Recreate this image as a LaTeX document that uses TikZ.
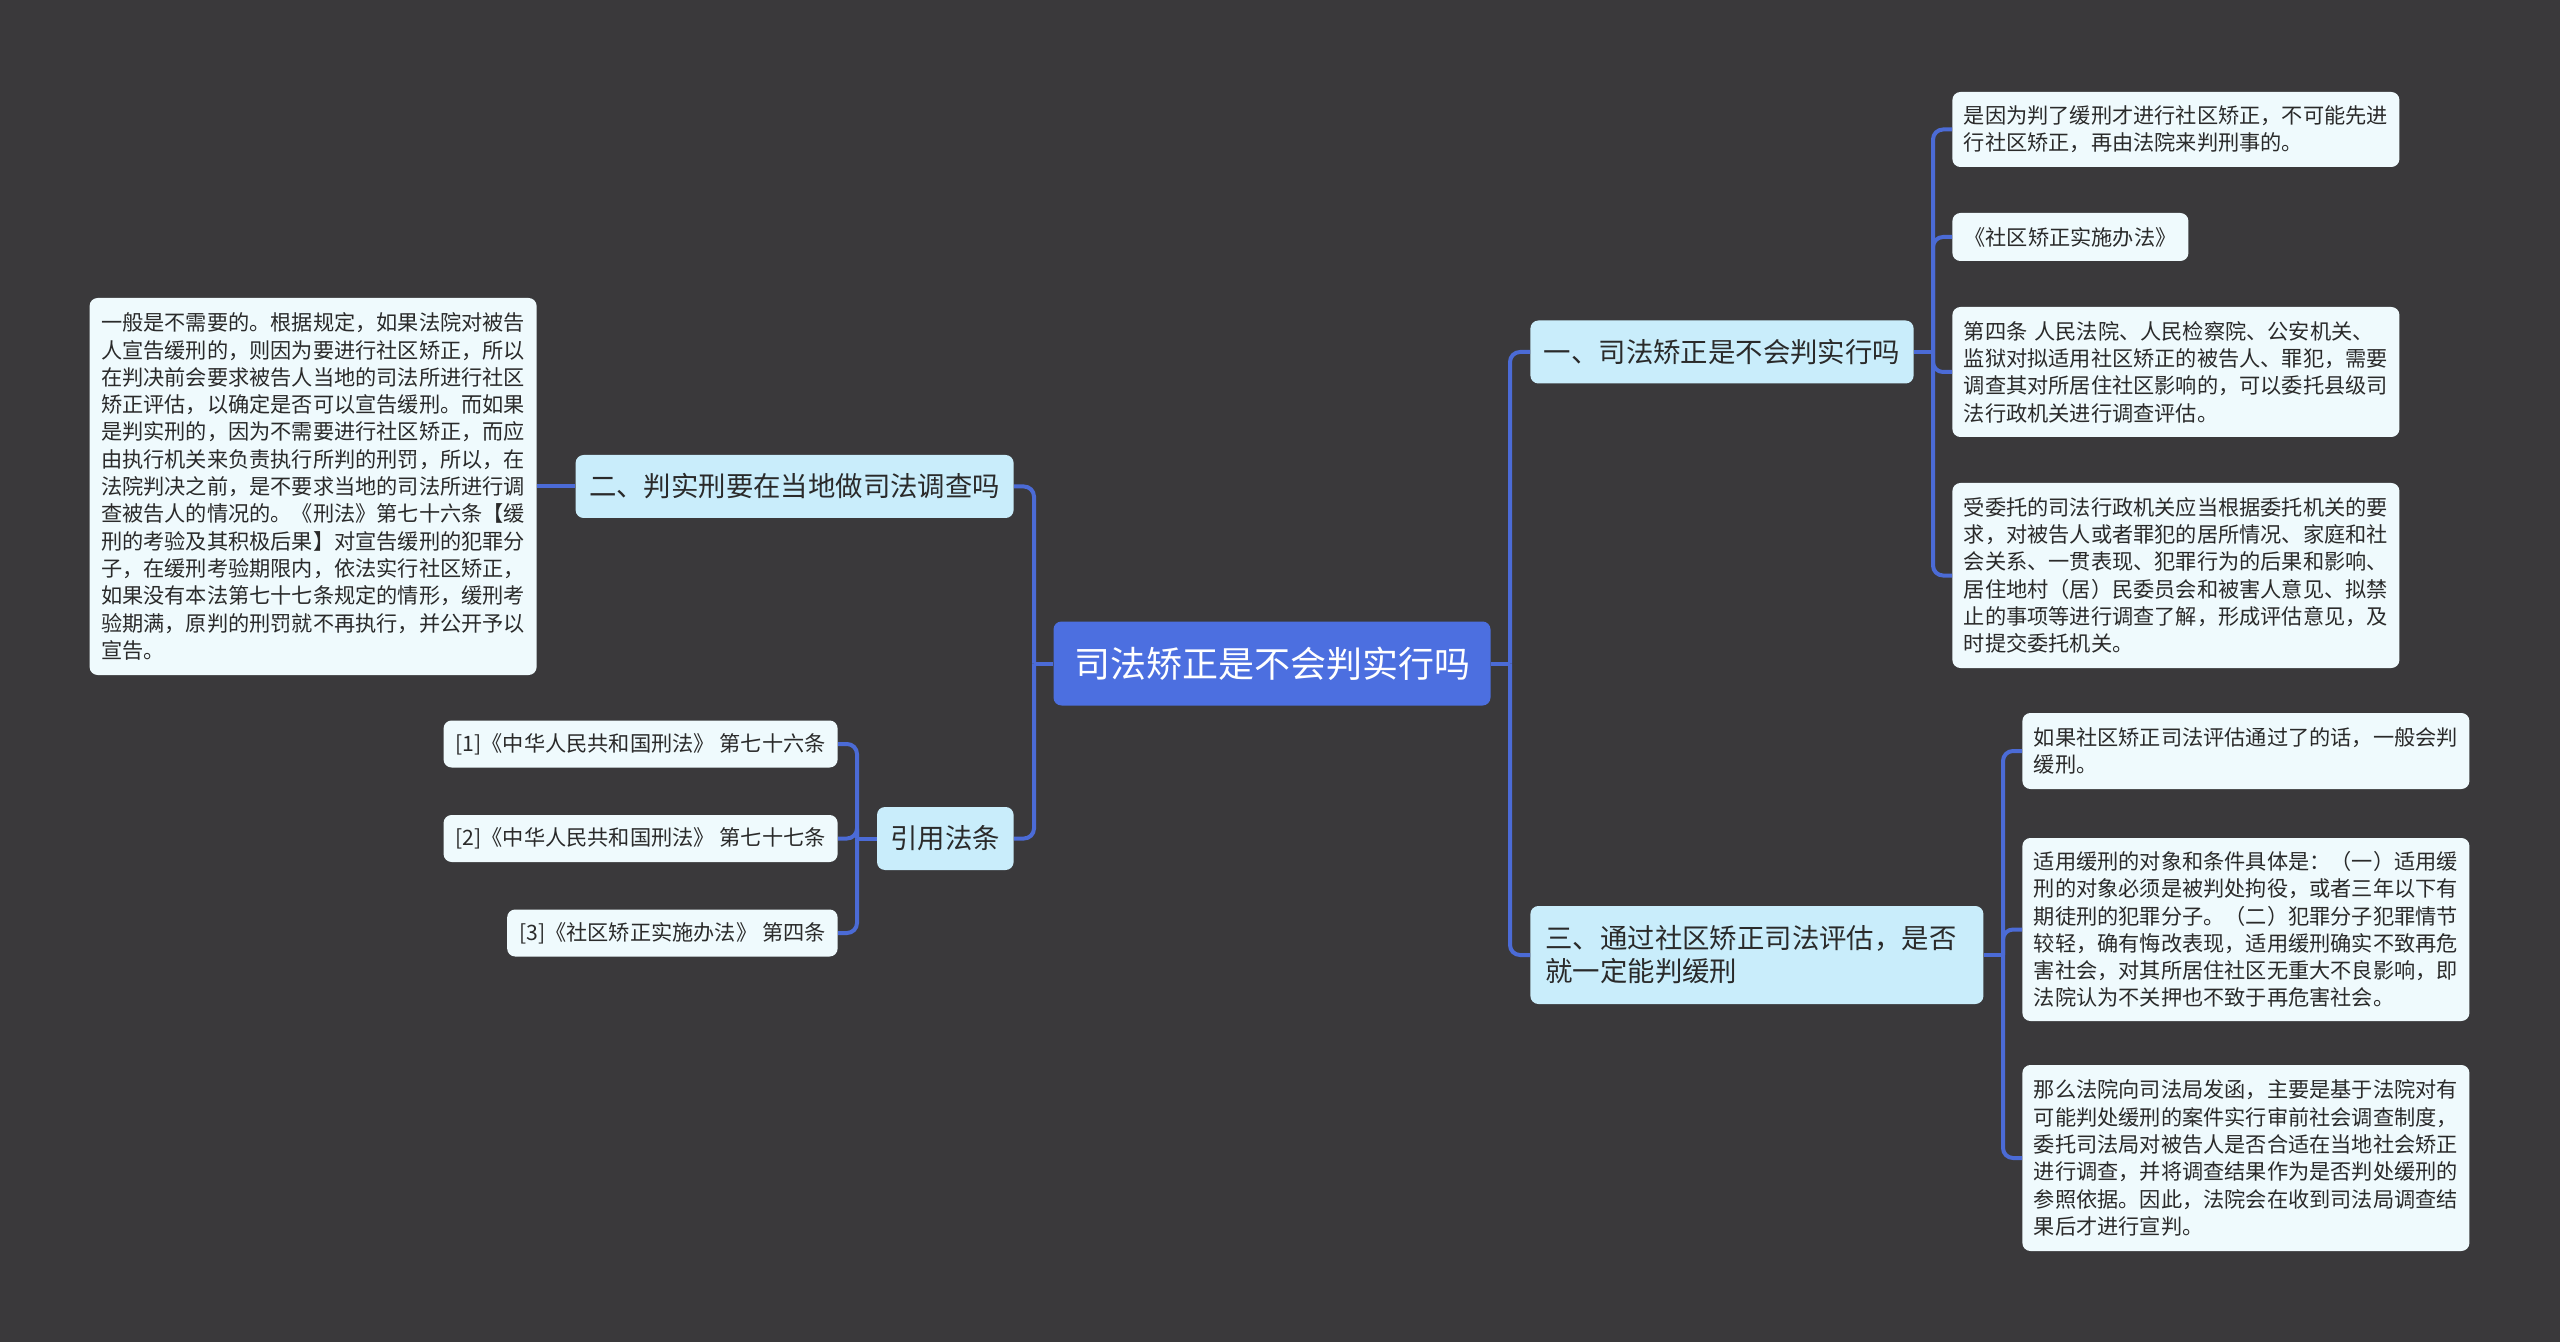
\documentclass[tikz,border=0pt]{standalone}
\usepackage{fontspec}
\setmainfont{Noto Sans CJK SC}
\definecolor{bgdark}{HTML}{3A393B}
\definecolor{rootblue}{HTML}{4C6FE0}
\definecolor{subcyan}{HTML}{C9EDFB}
\definecolor{notewhite}{HTML}{EFFAFD}
\definecolor{linkblue}{HTML}{4B6BD6}
\definecolor{ink}{HTML}{2A2A2A}
\tikzset{ %inner sep = 0pt,
  {main topic/.style} ={rounded corners=4pt, fill=rootblue, text=white,
                font=\fontsize{18}{21}\selectfont, inner sep=0pt,
                minimum width=218.5pt, minimum height=42pt},
  {sub topic/.style} ={rounded corners=4pt, fill=subcyan, text=ink,
                font=\fontsize{13.7}{16.5}\selectfont, inner xsep=6.75pt,
                inner ysep=0pt, minimum height=31.5pt},
  {note box/.style} ={rounded corners=4pt, fill=notewhite, text=ink,
                font=\fontsize{10.6}{13.65}\selectfont, text width=212pt,
                align=left, inner xsep=5.75pt, inner ysep=0pt},
  {cite box/.style} ={rounded corners=4pt, fill=notewhite, text=ink,
                font=\fontsize{10.6}{13.65}\selectfont, inner xsep=6pt,
                inner ysep=0pt, minimum height=23.5pt},
  {link line/.style} ={draw=linkblue, line width=2pt, rounded corners=5pt},
  >=latex,
 }

\begin{document}
\begin{tikzpicture}[x=0.5pt,y=-0.5pt]
\fill[bgdark] (0,0) rectangle (2560,1342);
\useasboundingbox (0,0) rectangle (2560,1342);

\node[main topic] (root) at (1272,663.5) {司法矫正是不会判实行吗};

% left side
\node[sub topic, anchor=east] (two) at (1014,486.5) {二、判实刑要在当地做司法调查吗};
\node[sub topic, anchor=east] (cite) at (1014,838.5) {引用法条};
\node[note box, anchor=east, minimum height=188.5pt] (twoa) at (537,486.5)
  {一般是不需要的。根据规定，如果法院对被告\\
   人宣告缓刑的，则因为要进行社区矫正，所以\\
   在判决前会要求被告人当地的司法所进行社区\\
   矫正评估，以确定是否可以宣告缓刑。而如果\\
   是判实刑的，因为不需要进行社区矫正，而应\\
   由执行机关来负责执行所判的刑罚，所以，在\\
   法院判决之前，是不要求当地的司法所进行调\\
   查被告人的情况的。《刑法》第七十六条【缓\\
   刑的考验及其积极后果】对宣告缓刑的犯罪分\\
   子，在缓刑考验期限内，依法实行社区矫正，\\
   如果没有本法第七十七条规定的情形，缓刑考\\
   验期满，原判的刑罚就不再执行，并公开予以\\
   宣告。};
\node[cite box, anchor=east] (cite1) at (838,744) {[1]《中华人民共和国刑法》 第七十六条};
\node[cite box, anchor=east] (cite2) at (838,838.5) {[2]《中华人民共和国刑法》 第七十七条};
\node[cite box, anchor=east] (cite3) at (838,933) {[3]《社区矫正实施办法》 第四条};

% right side
\node[sub topic, anchor=west] (one) at (1530,352) {一、司法矫正是不会判实行吗};
\node[sub topic, anchor=west, text width=211.5pt, align=left, inner xsep=7.5pt,
  minimum height=49pt] (three) at (1530,955)
  {三、通过社区矫正司法评估，是否\\就一定能判缓刑};

\node[note box, anchor=west, minimum height=37.5pt] (onea) at (1952,129.5)
  {是因为判了缓刑才进行社区矫正，不可能先进\\
   行社区矫正，再由法院来判刑事的。};
\node[cite box, anchor=west, minimum height=24pt] (oneb) at (1952,237)
  {《社区矫正实施办法》};
\node[note box, anchor=west, minimum height=65pt] (onec) at (1952,372)
  {第四条 人民法院、人民检察院、公安机关、\\
   监狱对拟适用社区矫正的被告人、罪犯，需要\\
   调查其对所居住社区影响的，可以委托县级司\\
   法行政机关进行调查评估。};
\node[note box, anchor=west, minimum height=92.5pt] (oned) at (1952,575.5)
  {受委托的司法行政机关应当根据委托机关的要\\
   求，对被告人或者罪犯的居所情况、家庭和社\\
   会关系、一贯表现、犯罪行为的后果和影响、\\
   居住地村（居）民委员会和被害人意见、拟禁\\
   止的事项等进行调查了解，形成评估意见，及\\
   时提交委托机关。};

\node[note box, anchor=west, minimum height=38pt] (threea) at (2022,751)
  {如果社区矫正司法评估通过了的话，一般会判\\
   缓刑。};
\node[note box, anchor=west, minimum height=91.5pt] (threeb) at (2022,929.5)
  {适用缓刑的对象和条件具体是：（一）适用缓\\
   刑的对象必须是被判处拘役，或者三年以下有\\
   期徒刑的犯罪分子。（二）犯罪分子犯罪情节\\
   较轻，确有悔改表现，适用缓刑确实不致再危\\
   害社会，对其所居住社区无重大不良影响，即\\
   法院认为不关押也不致于再危害社会。};
\node[note box, anchor=west, minimum height=93pt] (threec) at (2022,1158)
  {那么法院向司法局发函，主要是基于法院对有\\
   可能判处缓刑的案件实行审前社会调查制度，\\
   委托司法局对被告人是否合适在当地社会矫正\\
   进行调查，并将调查结果作为是否判处缓刑的\\
   参照依据。因此，法院会在收到司法局调查结\\
   果后才进行宣判。};

% junctions
\coordinate (jl) at (1034,663.5);
\coordinate (jr) at (1510,663.5);
\coordinate (jc) at (857,838.5);
\coordinate (j1) at (1933,352);
\coordinate (j3) at (2003,955);

\draw[link line] (root.west) -- (jl);
\draw[link line] (jl) |- (two.east);
\draw[link line] (jl) |- (cite.east);
\draw[link line] (two.west) -- (twoa.east);
\draw[link line] (cite.west) -- (jc);
\foreach \c in {cite1,cite2,cite3}
  \draw[link line] (jc) |- (\c.east);

\draw[link line] (root.east) -- (jr);
\draw[link line] (jr) |- (one.west);
\draw[link line] (jr) |- (three.west);
\draw[link line] (one.east) -- (j1);
\foreach \c in {onea,oneb,onec,oned}
  \draw[link line] (j1) |- (\c.west);
\draw[link line] (three.east) -- (j3);
\foreach \c in {threea,threeb,threec}
  \draw[link line] (j3) |- (\c.west);
\end{tikzpicture}
\end{document}
